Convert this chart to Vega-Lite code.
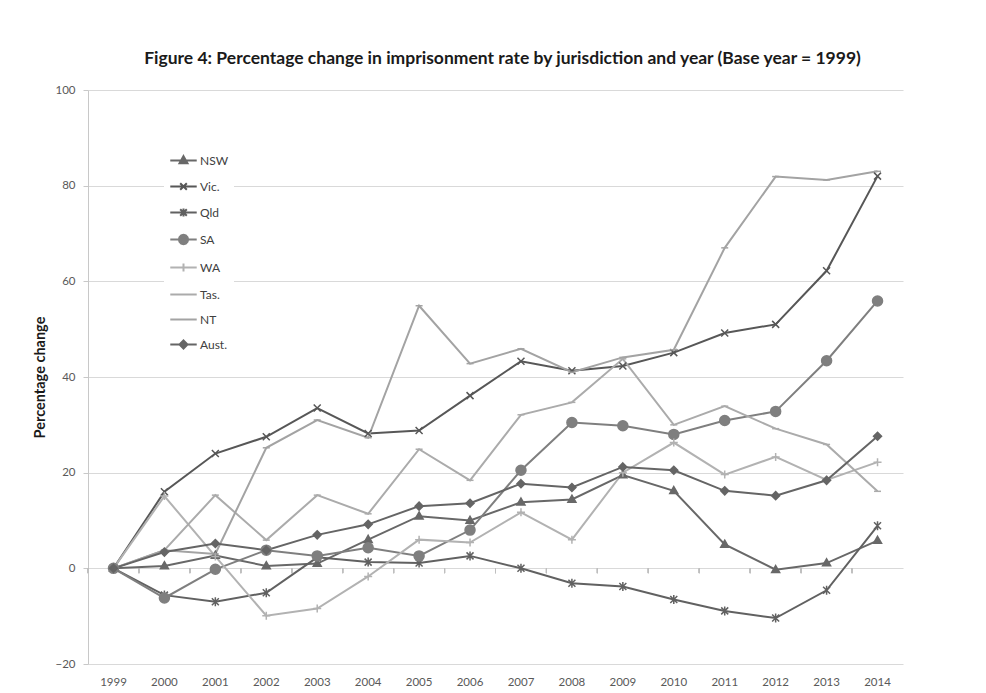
{
  "$schema": "https://vega.github.io/schema/vega-lite/v6.json",
  "width": 815,
  "height": 574,
  "autosize": {"type": "none"},
  "padding": {"left": 88, "top": 90, "right": 83, "bottom": 29},
  "background": "white",
  "title": {
    "text": "Figure 4: Percentage change in imprisonment rate by jurisdiction and year (Base year = 1999)",
    "font": "Lato",
    "fontSize": 17.5,
    "fontWeight": "bold",
    "color": "#1a1a1a",
    "anchor": "middle",
    "offset": 17,
    "dx": 7
  },
  "config": {
    "view": {"stroke": null},
    "axis": {"labelFont": "Lato", "titleFont": "Lato"},
    "legend": {"labelFont": "Lato"}
  },
  "data": {
    "values": [
      {"year": 1999, "state": "NSW", "value": 0}, {"year": 2000, "state": "NSW", "value": 0.5}, {"year": 2001, "state": "NSW", "value": 2.7}, {"year": 2002, "state": "NSW", "value": 0.5},
      {"year": 2003, "state": "NSW", "value": 1.0}, {"year": 2004, "state": "NSW", "value": 6.0}, {"year": 2005, "state": "NSW", "value": 10.9}, {"year": 2006, "state": "NSW", "value": 10.0},
      {"year": 2007, "state": "NSW", "value": 13.8}, {"year": 2008, "state": "NSW", "value": 14.4}, {"year": 2009, "state": "NSW", "value": 19.5}, {"year": 2010, "state": "NSW", "value": 16.2},
      {"year": 2011, "state": "NSW", "value": 5.0}, {"year": 2012, "state": "NSW", "value": -0.3}, {"year": 2013, "state": "NSW", "value": 1.1}, {"year": 2014, "state": "NSW", "value": 5.8},
      {"year": 1999, "state": "Vic.", "value": 0}, {"year": 2000, "state": "Vic.", "value": 16.0}, {"year": 2001, "state": "Vic.", "value": 24.0}, {"year": 2002, "state": "Vic.", "value": 27.5},
      {"year": 2003, "state": "Vic.", "value": 33.5}, {"year": 2004, "state": "Vic.", "value": 28.2}, {"year": 2005, "state": "Vic.", "value": 28.8}, {"year": 2006, "state": "Vic.", "value": 36.1},
      {"year": 2007, "state": "Vic.", "value": 43.3}, {"year": 2008, "state": "Vic.", "value": 41.3}, {"year": 2009, "state": "Vic.", "value": 42.3}, {"year": 2010, "state": "Vic.", "value": 45.1},
      {"year": 2011, "state": "Vic.", "value": 49.2}, {"year": 2012, "state": "Vic.", "value": 51.0}, {"year": 2013, "state": "Vic.", "value": 62.2}, {"year": 2014, "state": "Vic.", "value": 82.0},
      {"year": 1999, "state": "Qld", "value": 0}, {"year": 2000, "state": "Qld", "value": -5.6}, {"year": 2001, "state": "Qld", "value": -7.0}, {"year": 2002, "state": "Qld", "value": -5.1},
      {"year": 2003, "state": "Qld", "value": 2.3}, {"year": 2004, "state": "Qld", "value": 1.3}, {"year": 2005, "state": "Qld", "value": 1.1}, {"year": 2006, "state": "Qld", "value": 2.6},
      {"year": 2007, "state": "Qld", "value": 0.0}, {"year": 2008, "state": "Qld", "value": -3.1}, {"year": 2009, "state": "Qld", "value": -3.8}, {"year": 2010, "state": "Qld", "value": -6.5},
      {"year": 2011, "state": "Qld", "value": -8.9}, {"year": 2012, "state": "Qld", "value": -10.4}, {"year": 2013, "state": "Qld", "value": -4.6}, {"year": 2014, "state": "Qld", "value": 8.9},
      {"year": 1999, "state": "SA", "value": 0}, {"year": 2000, "state": "SA", "value": -6.2}, {"year": 2001, "state": "SA", "value": -0.2}, {"year": 2002, "state": "SA", "value": 3.8},
      {"year": 2003, "state": "SA", "value": 2.6}, {"year": 2004, "state": "SA", "value": 4.3}, {"year": 2005, "state": "SA", "value": 2.6}, {"year": 2006, "state": "SA", "value": 8.0},
      {"year": 2007, "state": "SA", "value": 20.5}, {"year": 2008, "state": "SA", "value": 30.5}, {"year": 2009, "state": "SA", "value": 29.8}, {"year": 2010, "state": "SA", "value": 28.0},
      {"year": 2011, "state": "SA", "value": 30.9}, {"year": 2012, "state": "SA", "value": 32.8}, {"year": 2013, "state": "SA", "value": 43.4}, {"year": 2014, "state": "SA", "value": 55.9},
      {"year": 1999, "state": "WA", "value": 0}, {"year": 2000, "state": "WA", "value": 15.1}, {"year": 2001, "state": "WA", "value": 2.5}, {"year": 2002, "state": "WA", "value": -9.9},
      {"year": 2003, "state": "WA", "value": -8.4}, {"year": 2004, "state": "WA", "value": -1.7}, {"year": 2005, "state": "WA", "value": 6.0}, {"year": 2006, "state": "WA", "value": 5.4},
      {"year": 2007, "state": "WA", "value": 11.7}, {"year": 2008, "state": "WA", "value": 6.0}, {"year": 2009, "state": "WA", "value": 20.0}, {"year": 2010, "state": "WA", "value": 26.3},
      {"year": 2011, "state": "WA", "value": 19.6}, {"year": 2012, "state": "WA", "value": 23.3}, {"year": 2013, "state": "WA", "value": 18.5}, {"year": 2014, "state": "WA", "value": 22.2},
      {"year": 1999, "state": "Tas.", "value": 0}, {"year": 2000, "state": "Tas.", "value": 3.8}, {"year": 2001, "state": "Tas.", "value": 15.3}, {"year": 2002, "state": "Tas.", "value": 5.9},
      {"year": 2003, "state": "Tas.", "value": 15.3}, {"year": 2004, "state": "Tas.", "value": 11.4}, {"year": 2005, "state": "Tas.", "value": 24.9}, {"year": 2006, "state": "Tas.", "value": 18.4},
      {"year": 2007, "state": "Tas.", "value": 32.1}, {"year": 2008, "state": "Tas.", "value": 34.7}, {"year": 2009, "state": "Tas.", "value": 43.8}, {"year": 2010, "state": "Tas.", "value": 30.0},
      {"year": 2011, "state": "Tas.", "value": 33.9}, {"year": 2012, "state": "Tas.", "value": 29.2}, {"year": 2013, "state": "Tas.", "value": 25.9}, {"year": 2014, "state": "Tas.", "value": 16.1},
      {"year": 1999, "state": "NT", "value": 0}, {"year": 2000, "state": "NT", "value": 3.8}, {"year": 2001, "state": "NT", "value": 3.0}, {"year": 2002, "state": "NT", "value": 25.2},
      {"year": 2003, "state": "NT", "value": 31.0}, {"year": 2004, "state": "NT", "value": 27.3}, {"year": 2005, "state": "NT", "value": 54.9}, {"year": 2006, "state": "NT", "value": 42.8},
      {"year": 2007, "state": "NT", "value": 45.9}, {"year": 2008, "state": "NT", "value": 41.0}, {"year": 2009, "state": "NT", "value": 44.1}, {"year": 2010, "state": "NT", "value": 45.7},
      {"year": 2011, "state": "NT", "value": 67.0}, {"year": 2012, "state": "NT", "value": 81.9}, {"year": 2013, "state": "NT", "value": 81.2}, {"year": 2014, "state": "NT", "value": 83.0},
      {"year": 1999, "state": "Aust.", "value": 0}, {"year": 2000, "state": "Aust.", "value": 3.4}, {"year": 2001, "state": "Aust.", "value": 5.2}, {"year": 2002, "state": "Aust.", "value": 3.8},
      {"year": 2003, "state": "Aust.", "value": 7.0}, {"year": 2004, "state": "Aust.", "value": 9.2}, {"year": 2005, "state": "Aust.", "value": 13.0}, {"year": 2006, "state": "Aust.", "value": 13.6},
      {"year": 2007, "state": "Aust.", "value": 17.7}, {"year": 2008, "state": "Aust.", "value": 16.9}, {"year": 2009, "state": "Aust.", "value": 21.2}, {"year": 2010, "state": "Aust.", "value": 20.5},
      {"year": 2011, "state": "Aust.", "value": 16.2}, {"year": 2012, "state": "Aust.", "value": 15.2}, {"year": 2013, "state": "Aust.", "value": 18.4}, {"year": 2014, "state": "Aust.", "value": 27.6}
    ]
  },
  "resolve": {"scale": {"stroke": "independent", "fill": "independent", "shape": "independent"}},
  "layer": [
    {
      "mark": {"type": "rule", "color": "#bfbfbf", "strokeWidth": 1},
      "encoding": {
        "x": {"field": "year", "type": "ordinal", "bandPosition": 0, "scale": {"type": "band", "paddingInner": 0, "paddingOuter": 0},
          "axis": {"title": null, "domain": false, "ticks": false, "grid": false, "labelPadding": 12, "labelFontSize": 11.5, "labelColor": "#595959", "labelAngle": 0}},
        "y": {"datum": 0, "type": "quantitative", "scale": {"domain": [-20, 100], "nice": false},
          "axis": {"title": "Percentage change", "titleFontSize": 14.5, "titleFontWeight": "bold", "titleColor": "#1a1a1a", "titlePadding": 7,
            "values": [-20, 0, 20, 40, 60, 80, 100], "grid": true, "gridColor": "#d9d9d9", "domainColor": "#c8c8c8", "tickColor": "#c8c8c8", "tickSize": 5,
            "labelPadding": 8, "labelFontSize": 11.5, "labelColor": "#595959"}},
        "y2": {"datum": -1}
      }
    },
    {
      "mark": {"type": "line", "strokeWidth": 2},
      "encoding": {
        "x": {"field": "year", "type": "ordinal", "bandPosition": 0.5},
        "y": {"field": "value", "type": "quantitative"},
        "stroke": {"field": "state", "type": "nominal", "legend": null,
          "scale": {"domain": ["NSW", "Vic.", "Qld", "SA", "WA", "Tas.", "NT", "Aust."],
            "range": ["#686868", "#575757", "#616161", "#7f7f7f", "#b2b2b2", "#ababab", "#a3a3a3", "#656565"]}}
      }
    },
    {
      "mark": {"type": "point", "filled": true, "opacity": 1, "size": 100, "strokeWidth": 1.5},
      "encoding": {
        "x": {"field": "year", "type": "ordinal", "bandPosition": 0.5},
        "y": {"field": "value", "type": "quantitative"},
        "fill": {"field": "state", "type": "nominal", "legend": null,
          "scale": {"domain": ["NSW", "Vic.", "Qld", "SA", "WA", "Tas.", "NT", "Aust."],
            "range": ["#686868", "#575757", "#616161", "#7f7f7f", "#b2b2b2", "#ababab", "#a3a3a3", "#656565"]}},
        "stroke": {"field": "state", "type": "nominal", "legend": null,
          "scale": {"domain": ["NSW", "Vic.", "Qld", "SA", "WA", "Tas.", "NT", "Aust."],
            "range": ["#686868", "#575757", "#616161", "#7f7f7f", "#b2b2b2", "#ababab", "#a3a3a3", "#656565"]}},
        "shape": {"field": "state", "type": "nominal", "legend": null,
          "scale": {"domain": ["NSW", "Vic.", "Qld", "SA", "WA", "Tas.", "NT", "Aust."],
            "range": ["M0,-0.85L0.8,0.55L-0.8,0.55Z", "M-0.7,-0.7L0.7,0.7M-0.7,0.7L0.7,-0.7", "M-0.7,-0.7L0.7,0.7M-0.7,0.7L0.7,-0.7M0,-0.9L0,0.9", "circle", "M-0.8,0L0.8,0M0,-0.8L0,0.8", "M-0.7,0L0.7,0", "M-0.7,0L0.7,0", "M0,-0.8L0.8,0L0,0.8L-0.8,0Z"]}}
      }
    },
    {
      "transform": [{"filter": "datum.value > 1000"}],
      "mark": {"type": "point", "filled": true, "opacity": 1, "strokeWidth": 2},
      "encoding": {
        "fill": {"field": "state", "type": "nominal",
          "scale": {"domain": ["NSW", "Vic.", "Qld", "SA", "WA", "Tas.", "NT", "Aust."],
            "range": ["#686868", "#575757", "#616161", "#7f7f7f", "#b2b2b2", "#ababab", "#a3a3a3", "#656565"]},
          "legend": {"title": null, "orient": "none", "legendX": 76, "legendY": 51, "fillColor": "white", "padding": 5,
            "rowPadding": 4, "labelOffset": 2, "symbolSize": 700, "symbolStrokeWidth": 2, "labelFontSize": 12, "labelColor": "#404040"}},
        "stroke": {"field": "state", "type": "nominal",
          "scale": {"domain": ["NSW", "Vic.", "Qld", "SA", "WA", "Tas.", "NT", "Aust."],
            "range": ["#686868", "#575757", "#616161", "#7f7f7f", "#b2b2b2", "#ababab", "#a3a3a3", "#656565"]}},
        "shape": {"field": "state", "type": "nominal",
          "scale": {"domain": ["NSW", "Vic.", "Qld", "SA", "WA", "Tas.", "NT", "Aust."],
            "range": [
              "M-1,0L1,0M0,-0.33L0.3,0.2L-0.3,0.2Z",
              "M-1,0L1,0M-0.25,-0.25L0.25,0.25M-0.25,0.25L0.25,-0.25",
              "M-1,0L1,0M-0.25,-0.25L0.25,0.25M-0.25,0.25L0.25,-0.25M0,-0.3L0,0.3",
              "M-1,0L1,0M0.35,0L0.303,0.175L0.175,0.303L0,0.35L-0.175,0.303L-0.303,0.175L-0.35,0L-0.303,-0.175L-0.175,-0.303L0,-0.35L0.175,-0.303L0.303,-0.175Z",
              "M-1,0L1,0M0,-0.3L0,0.3",
              "M-1,0L1,0",
              "M-1,0L1,0",
              "M-1,0L1,0M0,-0.3L0.3,0L0,0.3L-0.3,0Z"
            ]}}
      }
    }
  ]
}
